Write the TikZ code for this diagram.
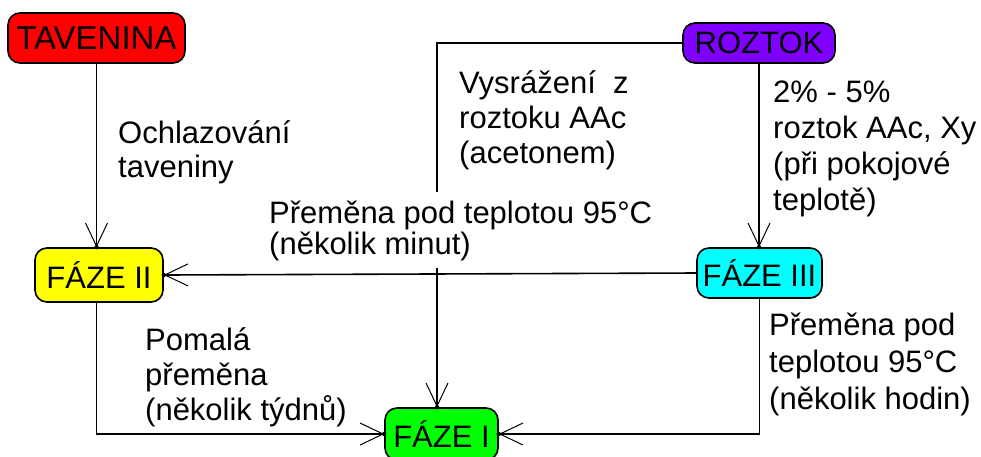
\documentclass[tikz,border=0pt]{standalone}
\usepackage{fontspec}
\setmainfont{Liberation Sans}
\usetikzlibrary{arrows.meta}
\definecolor{cRed}{HTML}{FF0000}
\definecolor{cPurple}{HTML}{8000FF}
\definecolor{cYellow}{HTML}{FFFF00}
\definecolor{cCyan}{HTML}{00FFFF}
\definecolor{cGreen}{HTML}{00FF00}
\tikzset{
  phase/.style={draw=black, line width=1.6pt, rounded corners=12pt, inner sep=0pt,
    font=\fontsize{31}{31}\selectfont},
  lbl/.style={anchor=base west, align=left, inner sep=0pt},
  conn/.style={line width=1.6pt, draw=black},
  arr/.style={conn, -{Straight Barb[length=23pt,width=22pt,line width=1pt]}},
}
\begin{document}
\begin{tikzpicture}[x=1pt,y=-1pt]
\useasboundingbox (0,0) rectangle (981,456);
\clip (0,0) rectangle (981,456);
% nodes
\node[phase, fill=cRed, minimum width=177pt, minimum height=50pt, font=\fontsize{33}{33}\selectfont] (tav) at (96.5,38) {TAVENINA};
\node[phase, fill=cPurple, minimum width=152pt, minimum height=40pt] (ro) at (759,43) {ROZTOK};
\node[phase, fill=cYellow, minimum width=128pt, minimum height=54pt] (f2) at (99,275) {FÁZE II};
\node[phase, fill=cCyan, minimum width=125pt, minimum height=50pt] (f3) at (759.5,273) {FÁZE III};
\node[phase, fill=cGreen, minimum width=113pt, minimum height=52pt] (f1) at (441.5,434) {FÁZE I};
\coordinate (vx) at (437,0);
% connectors
\draw[arr] (tav.south) -- (tav.south |- f2.north);
\draw[arr] (ro.south) -- (ro.south |- f3.north);
\draw[arr] (f3.west) -- (f2.east);
\draw[arr] (ro.west) -| (vx |- f1.north);
\draw[arr] (tav.south |- f2.south) |- (f1.west);
\draw[arr] (f3.south) |- (f1.east);
% tip dots
\fill (tav.south |- f2.north) circle (2.2pt);
\fill (ro.south |- f3.north) circle (2.2pt);
\fill (f2.east) circle (2.2pt);
\fill (vx |- f1.north) circle (2.2pt);
\fill (f1.west) circle (2.2pt);
\fill (f1.east) circle (2.2pt);
% labels (anchor = baseline of last line)
\node[lbl, font=\fontsize{31}{34}\selectfont] (l1) at (118,177) {Ochlazování\\taveniny};
\node[lbl, font=\fontsize{31}{35}\selectfont] (l2) at (459,163) {Vysrážení\ \ z\\roztoku AAc\\(acetonem)};
\node[lbl, font=\fontsize{31}{36}\selectfont] (l3) at (773,210) {2\% - 5\%\\roztok AAc, Xy\\(při pokojové\\teplotě)};
\node[lbl, font=\fontsize{31}{31}\selectfont, fill=white, inner ysep=8pt, inner xsep=2pt] (l4) at (267,254) {Přeměna pod teplotou 95°C\\(několik minut)};
\node[lbl, font=\fontsize{31}{35}\selectfont] (l5) at (145,420) {Pomalá\\přeměna\\(několik týdnů)};
\node[lbl, font=\fontsize{31}{37}\selectfont] (l6) at (769,409) {Přeměna pod\\teplotou 95°C\\(několik hodin)};
\end{tikzpicture}
\end{document}
